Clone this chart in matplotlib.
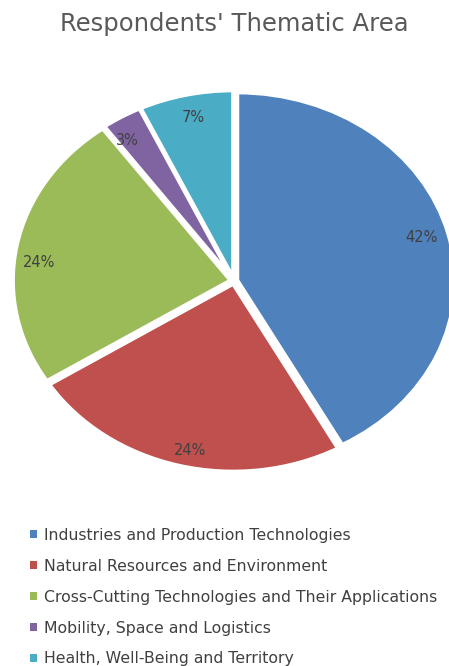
import numpy as np
import matplotlib.pyplot as plt
from matplotlib.patches import Patch

# Respondents per thematic area (percent)
areas = [
    "Industries and Production Technologies",
    "Natural Resources and Environment",
    "Cross-Cutting Technologies and Their Applications",
    "Mobility, Space and Logistics",
    "Health, Well-Being and Territory",
]
shares = [42, 24, 24, 3, 7]
colors = ["#4F81BD", "#C0504D", "#9BBB59", "#8064A2", "#4BACC6"]

# where each percentage sits: radius and a small angular nudge (deg)
label_r = [0.89, 0.925, 0.9, 0.895, 0.89]
label_nudge = [0.6, 1.8, 4.4, 2.6, -0.4]

W, H = 449, 666
cx, cy = 234, 281      # pie centre, px from top-left
rx, ry = 218, 188      # stretched radii, px

fig = plt.figure(figsize=(W / 100, H / 100), dpi=100)
ax = fig.add_axes([0, 0, 1, 1])

wedges, texts, autotexts = ax.pie(
    shares,
    colors=colors,
    startangle=90,
    counterclock=False,
    explode=[0.015] * len(shares),
    autopct="%d%%",
    wedgeprops=dict(edgecolor="white", linewidth=3),
    textprops=dict(color="#404040", fontsize=10.5),
)

for w, t, r, d in zip(wedges, autotexts, label_r, label_nudge):
    ang = np.deg2rad((w.theta1 + w.theta2) / 2 + d)
    t.set_position((r * np.cos(ang), r * np.sin(ang)))

ax.set_aspect("auto")
ax.set_xlim(-cx / rx, (W - cx) / rx)
ax.set_ylim((cy - H) / ry, cy / ry)
ax.axis("off")

fig.text(234 / W, 1 - 24 / H, "Respondents' Thematic Area",
         ha="center", va="center", fontsize=17.5, color="#595959")

handles = [Patch(facecolor=c) for c in colors]
fig.legend(handles, areas, loc="upper left",
           bbox_to_anchor=(30 / W, 1 - 528 / H),
           frameon=False, fontsize=11.3, labelcolor="#404040",
           handlelength=0.42, handleheight=0.42, handletextpad=0.5,
           labelspacing=1.01, borderpad=0, borderaxespad=0)

fig.savefig("out.png", dpi=100)
